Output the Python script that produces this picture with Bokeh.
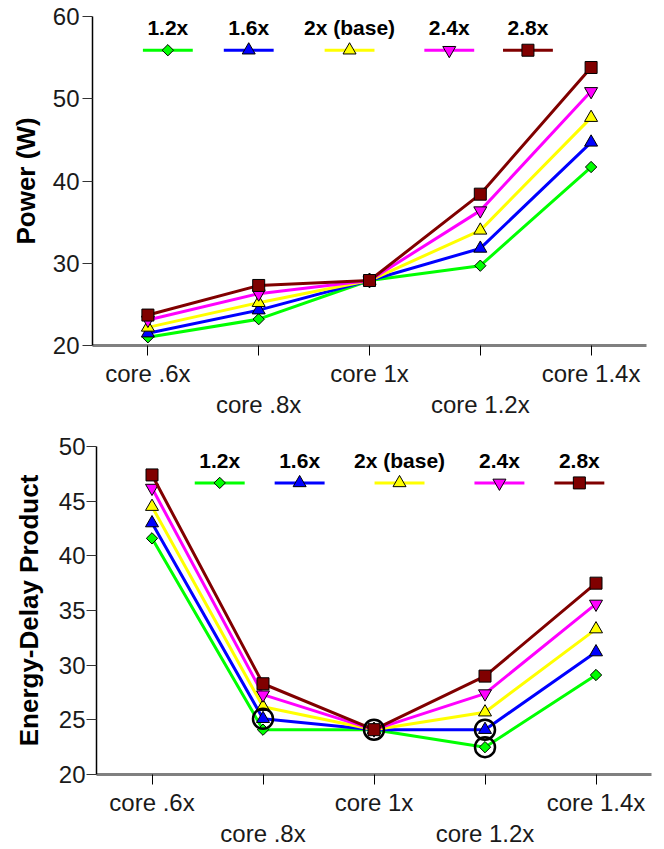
import math
from bokeh.plotting import figure
from bokeh.layouts import column, row
from bokeh.models import Range1d, LinearAxis, FixedTicker
from bokeh.core.properties import value
from bokeh.embed import file_html
from bokeh.resources import INLINE

# ---------------- data ----------------
categories = ["core .6x", "core .8x", "core 1x", "core 1.2x", "core 1.4x"]
series_names = ["1.2x", "1.6x", "2x (base)", "2.4x", "2.8x"]

power_12 = [21.0, 23.2, 27.9, 29.7, 41.7]
power_16 = [21.5, 24.3, 27.9, 31.8, 44.7]
power_20 = [22.2, 25.2, 27.9, 34.0, 47.7]
power_24 = [23.1, 26.3, 27.9, 36.4, 50.9]
power_28 = [23.7, 27.3, 27.9, 38.4, 53.8]

edp_12 = [41.6, 24.1, 24.1, 22.5, 29.1]
edp_16 = [43.0, 25.1, 24.1, 24.1, 31.2]
edp_20 = [44.5, 26.2, 24.1, 25.7, 33.3]
edp_24 = [46.2, 27.3, 24.1, 27.4, 35.6]
edp_28 = [47.4, 28.3, 24.1, 29.0, 37.5]

power_ticks = [20, 30, 40, 50, 60]
edp_ticks = [20, 25, 30, 35, 40, 45, 50]

# highlighted (circled) points in the EDP chart: (series index, category index)
edp_highlight = [(1, 1), (1, 2), (1, 3), (0, 3)]

# ---------------- styles ----------------
FONT = "Liberation Sans"
colors = ["#00ff00", "#0000ff", "#ffff00", "#ff00ff", "#800000"]
markers = ["square", "triangle", "triangle", "inverted_triangle", "square"]
angles = [math.pi / 4, 0, 0, 0, 0]
msizes = [8, 13, 13, 13, 12]

xs = list(range(len(categories)))


def make_fig(series, yr, yticks, ylabel, height, left, right, top, bottom,
             leg_centers, leg_line_y, leg_text_y, y_std, ylab_std):
    p = figure(width=664, height=height, x_range=Range1d(-0.5, len(categories) - 0.5),
               y_range=Range1d(*yr), toolbar_location=None, output_backend="svg",
               min_border_left=left, min_border_right=right,
               min_border_top=top, min_border_bottom=bottom)
    p.outline_line_color = None
    p.grid.visible = False
    p.background_fill_color = "white"
    p.border_fill_color = "white"

    # y axis
    ya = p.yaxis[0]
    ya.ticker = FixedTicker(ticks=yticks)
    ya.axis_label = ylabel
    ya.axis_label_text_font = FONT
    ya.axis_label_text_font_style = "bold"
    ya.axis_label_text_font_size = "26px"
    ya.axis_label_text_color = "black"
    ya.axis_label_standoff = ylab_std
    ya.major_label_text_font = FONT
    ya.major_label_text_font_size = "24px"
    ya.major_label_text_color = "#1a1a1a"
    ya.major_label_standoff = y_std
    ya.major_tick_in = 0
    ya.major_tick_out = 10
    ya.minor_tick_line_color = None
    ya.axis_line_color = "black"
    ya.axis_line_width = 1.5
    ya.major_tick_line_color = "#333333"

    # x axis: first row of labels
    xa = p.xaxis[0]
    xa.ticker = FixedTicker(ticks=xs)
    xa.major_label_overrides = {i: (categories[i] if i % 2 == 0 else " ") for i in xs}
    xa.major_label_text_font = FONT
    xa.major_label_text_font_size = "24px"
    xa.major_label_text_color = "#1a1a1a"
    xa.major_label_standoff = 4
    xa.major_tick_in = 0
    xa.major_tick_out = 10
    xa.minor_tick_line_color = None
    xa.axis_line_color = "#808080"
    xa.axis_line_width = 3
    xa.major_tick_line_color = "black"

    # second row of labels
    odd = [i for i in xs if i % 2 == 1]
    xa2 = LinearAxis(ticker=FixedTicker(ticks=odd),
                     major_label_overrides={i: categories[i] for i in odd})
    xa2.major_label_text_font = FONT
    xa2.major_label_text_font_size = "24px"
    xa2.major_label_text_color = "#1a1a1a"
    xa2.major_label_standoff = 1
    xa2.major_tick_in = 0
    xa2.major_tick_out = 0
    xa2.minor_tick_line_color = None
    xa2.axis_line_color = None
    xa2.major_tick_line_color = None
    p.add_layout(xa2, "below")

    # series
    for k, ys in enumerate(series):
        p.line(xs, ys, line_color=colors[k], line_width=3)
        p.scatter(xs, ys, marker=markers[k], angle=angles[k], size=msizes[k],
                  fill_color=colors[k], line_color="black", line_width=1)

    # legend (text above a short line with marker)
    hw = 0.225
    for k, name in enumerate(series_names):
        cx = leg_centers[k]
        p.segment(x0=[cx - hw], x1=[cx + hw], y0=[leg_line_y], y1=[leg_line_y],
                  line_color=colors[k], line_width=3)
        p.scatter([cx], [leg_line_y], marker=markers[k], angle=angles[k], size=msizes[k],
                  fill_color=colors[k], line_color="black", line_width=1)
        p.text(x=[cx], y=[leg_text_y], text=[name], text_align="center",
               text_baseline="middle", text_font=value(FONT), text_font_style="bold",
               text_font_size="21px", text_color="black")
    return p


power_series = [power_12, power_16, power_20, power_24, power_28]
edp_series = [edp_12, edp_16, edp_20, edp_24, edp_28]

p1 = make_fig(power_series, (20, 60), power_ticks, "Power (W)", 429, 92, 18, 16, 84,
              [0.18, 0.91, 1.82, 2.72, 3.43], 55.9, 58.7, 3, 9)
p2 = make_fig(edp_series, (20, 50), edp_ticks, "Energy-Delay Product", 420, 96, 13, 17, 73,
              [0.61, 1.33, 2.23, 3.13, 3.85], 46.67, 48.7, 1, 12)

hx = [c for (s, c) in edp_highlight]
hy = [edp_series[s][c] for (s, c) in edp_highlight]
p2.scatter(hx, hy, marker="circle", size=20, fill_color=None,
           line_color="black", line_width=2.5)

layout = column(row(p1), row(p2), spacing=0)
open("out.html", "w").write(file_html(layout, INLINE))
